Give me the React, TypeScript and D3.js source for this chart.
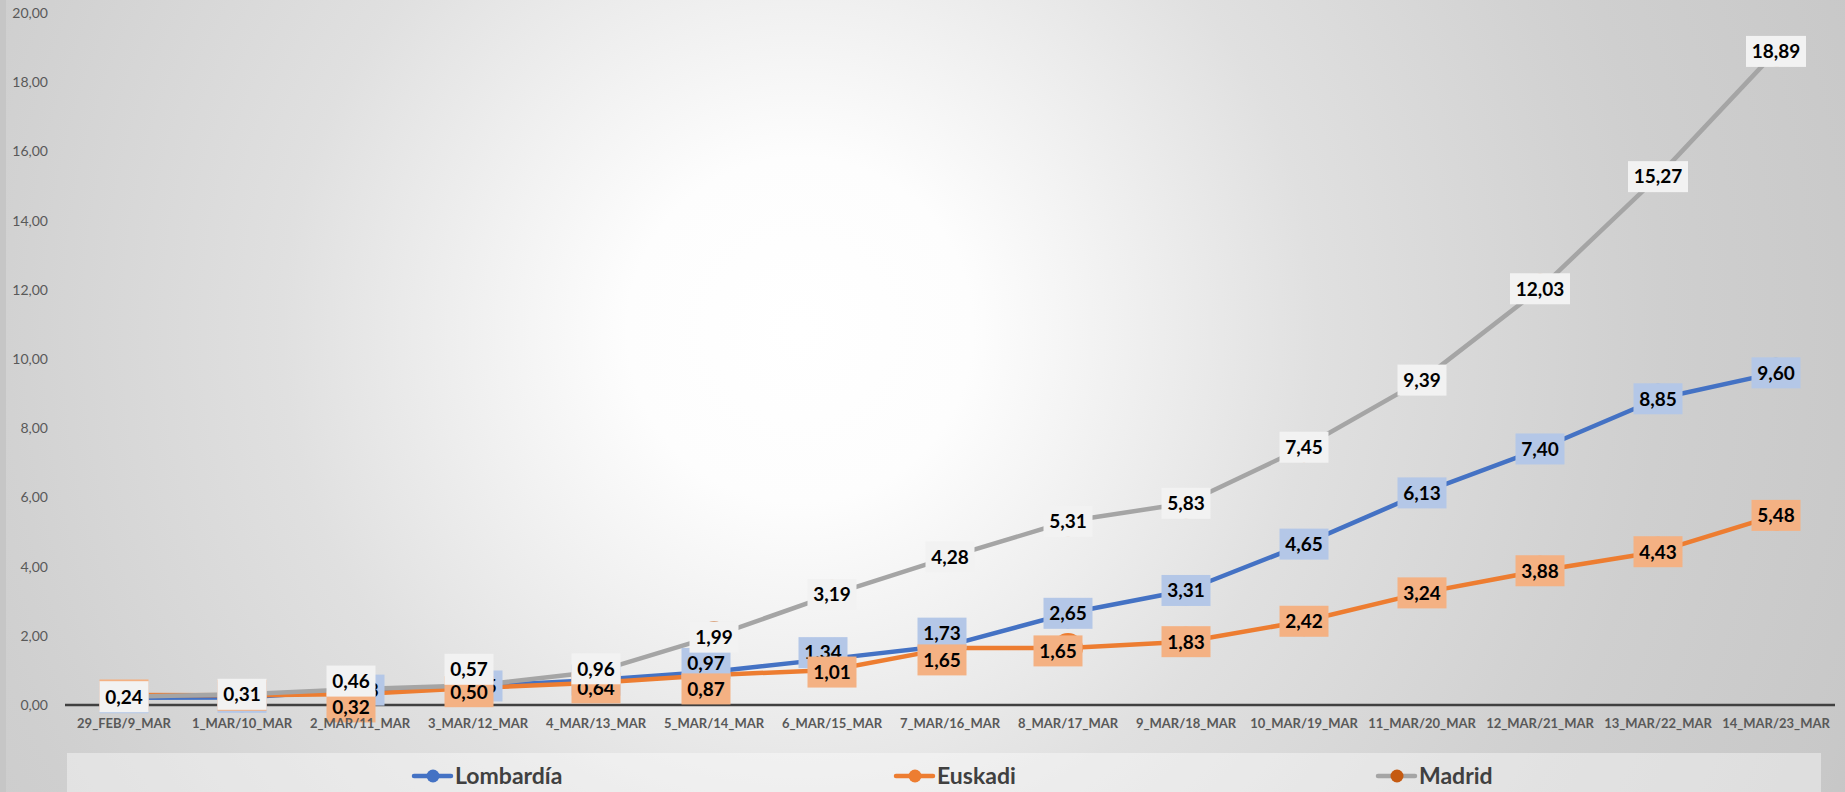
import React from 'react';
import * as d3 from 'd3';

const categories = [
  '29_FEB/9_MAR', '1_MAR/10_MAR', '2_MAR/11_MAR', '3_MAR/12_MAR', '4_MAR/13_MAR',
  '5_MAR/14_MAR', '6_MAR/15_MAR', '7_MAR/16_MAR', '8_MAR/17_MAR', '9_MAR/18_MAR',
  '10_MAR/19_MAR', '11_MAR/20_MAR', '12_MAR/21_MAR', '13_MAR/22_MAR', '14_MAR/23_MAR',
];
const lombardia = [0.21, 0.22, 0.43, 0.55, 0.72, 0.97, 1.34, 1.73, 2.65, 3.31, 4.65, 6.13, 7.40, 8.85, 9.60];
const euskadi = [0.29, 0.28, 0.32, 0.50, 0.64, 0.87, 1.01, 1.65, 1.65, 1.83, 2.42, 3.24, 3.88, 4.43, 5.48];
const madrid = [0.24, 0.31, 0.46, 0.57, 0.96, 1.99, 3.19, 4.28, 5.31, 5.83, 7.45, 9.39, 12.03, 15.27, 18.89];
const yTicks = [0, 2, 4, 6, 8, 10, 12, 14, 16, 18, 20];

const W = 1845;
const H = 792;

const series = [
  { name: 'Lombardía', values: lombardia, line: '#4472c4', marker: '#4472c4', box: '#b4c7e7' },
  { name: 'Euskadi', values: euskadi, line: '#ed7d31', marker: '#ed7d31', box: '#f4b183' },
  { name: 'Madrid', values: madrid, line: '#a5a5a5', marker: '#c55a11', box: '#f2f2f2' },
];

// manual label nudges (layout only), keyed "series:index"
const labelNudges: Record<string, [number, number]> = {
  'Madrid:2': [-9, -8],
  'Madrid:3': [-9, -16],
  'Madrid:4': [0, -3],
  'Madrid:5': [0, 1],
  'Lombardía:5': [-8, -8],
  'Lombardía:6': [-9, -6],
  'Lombardía:7': [-8, -12],
  'Euskadi:2': [-9, 13],
  'Euskadi:3': [-9, 4],
  'Euskadi:4': [0, 5],
  'Euskadi:5': [-8, 14],
  'Euskadi:6': [0, 2],
  'Euskadi:7': [-8, 12],
  'Euskadi:8': [-10, 3],
};

const legendX = [433, 915, 1397];

const fmt = (v: number) => v.toFixed(2).replace('.', ',');

export default function App() {
  const x = d3.scaleBand<string>().domain(categories).range([65, 1835]);
  const y = d3.scaleLinear().domain([0, 20]).range([705, 13]);
  const cx = (i: number) => (x(categories[i]) as number) + x.bandwidth() / 2;
  const line = d3
    .line<number>()
    .x((_, i) => cx(i))
    .y((d) => y(d));

  return (
    <svg
      width={W}
      height={H}
      style={{ position: 'absolute', left: 0, top: 0, display: 'block' }}
      fontFamily="Lato, 'Open Sans', sans-serif"
    >
      <defs>
        <radialGradient id="bg" gradientUnits="userSpaceOnUse" cx={800} cy={330} r={1150}>
          <stop offset="0" stopColor="#ffffff" />
          <stop offset="0.15" stopColor="#fdfdfd" />
          <stop offset="0.45" stopColor="#e0e0e0" />
          <stop offset="0.69" stopColor="#d2d2d2" />
          <stop offset="0.75" stopColor="#cfcfcf" />
          <stop offset="0.97" stopColor="#c8c8c8" />
          <stop offset="1" stopColor="#c6c6c6" />
        </radialGradient>
      </defs>
      <rect x={0} y={0} width={W} height={H} fill="url(#bg)" />
      <rect x={0} y={0} width={6} height={H} fill="#c6c6c6" />

      {/* y axis labels */}
      {yTicks.map((t) => (
        <text
          key={t}
          x={48}
          y={y(t)}
          dy="0.35em"
          textAnchor="end"
          fontSize={14}
          fill="#595959"
        >
          {fmt(t)}
        </text>
      ))}

      {/* x axis line */}
      <line x1={65} x2={1835} y1={y(0)} y2={y(0)} stroke="#404040" strokeWidth={2.5} />

      {/* lines */}
      {series.map((s) => (
        <path
          key={s.name}
          d={line(s.values) || ''}
          fill="none"
          stroke={s.line}
          strokeWidth={4.5}
          strokeLinejoin="round"
          strokeLinecap="round"
        />
      ))}

      {/* markers */}
      {series.map((s) =>
        s.values.map((v, i) => (
          <circle key={s.name + i} cx={cx(i)} cy={y(v)} r={15} fill={s.marker} />
        ))
      )}

      {/* data labels */}
      {series.map((s) =>
        s.values.map((v, i) => {
          const label = fmt(v);
          const [dx, dy] = labelNudges[`${s.name}:${i}`] || [0, 0];
          const w = label.length * 11 + 5;
          const h = 31;
          const lx = cx(i) + dx;
          const ly = y(v) + dy;
          return (
            <g key={'l' + s.name + i}>
              <rect x={lx - w / 2} y={ly - h / 2} width={w} height={h} fill={s.box} />
              <text
                x={lx}
                y={ly}
                dy="0.36em"
                textAnchor="middle"
                fontSize={19}
                fontWeight={700}
                fill="#000000"
              >
                {label}
              </text>
            </g>
          );
        })
      )}

      {/* x tick labels */}
      {categories.map((c, i) => (
        <text
          key={c}
          x={cx(i)}
          y={723}
          dy="0.35em"
          textAnchor="middle"
          fontSize={13}
          fontWeight={700}
          fill="#595959"
        >
          {c}
        </text>
      ))}

      {/* legend */}
      <rect x={67} y={753} width={1754} height={H - 753} fill="#ffffff" opacity={0.4} />
      {series.map((s, k) => (
        <g key={'lg' + s.name}>
          <line
            x1={legendX[k] - 19}
            x2={legendX[k] + 18}
            y1={776}
            y2={776}
            stroke={s.line}
            strokeWidth={4.5}
            strokeLinecap="round"
          />
          <circle cx={legendX[k]} cy={776} r={6.5} fill={s.marker} />
          <text
            x={legendX[k] + 22}
            y={776}
            dy="0.36em"
            fontSize={23}
            fontWeight={700}
            fill="#404040"
          >
            {s.name}
          </text>
        </g>
      ))}
    </svg>
  );
}
